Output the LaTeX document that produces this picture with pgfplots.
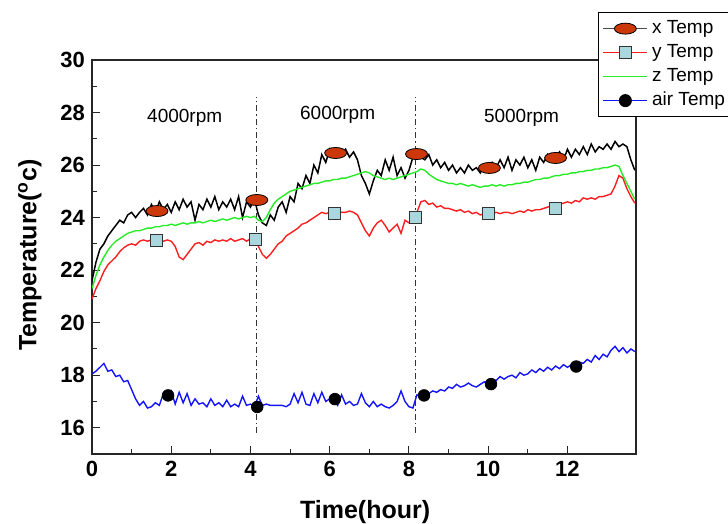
\documentclass[border=0pt]{standalone}
\usepackage{pgfplots}
\pgfplotsset{compat=1.18}
\usepackage{fontspec}
\setmainfont{Liberation Sans}
\definecolor{xred}{RGB}{204,56,10}
\definecolor{sqblue}{RGB}{170,214,222}
\definecolor{zgreen}{RGB}{40,235,40}
\definecolor{ablue}{RGB}{20,20,250}
\definecolor{yred}{RGB}{250,30,30}
\pgfplotsset{
 legx/.style={legend image code/.code={\draw[mark repeat=2,mark phase=2,##1,black!70,mark=*,mark size=2.75pt,mark options={xscale=2,fill=xred,draw=black,line width=0.4pt}] plot coordinates {(0pt,0pt) (11pt,0pt) (22pt,0pt)};}},
 legy/.style={legend image code/.code={\draw[mark repeat=2,mark phase=2,##1,mark=square*,mark size=3pt,mark options={fill=sqblue,draw=black!80,line width=0.5pt}] plot coordinates {(0pt,0pt) (11pt,0pt) (22pt,0pt)};}},
 legz/.style={legend image code/.code={\draw[##1] plot coordinates {(0pt,0pt) (11pt,0pt) (22pt,0pt)};}},
 lega/.style={legend image code/.code={\draw[mark repeat=2,mark phase=2,##1,mark=*,mark size=2.9pt,mark options={fill=black,draw=black}] plot coordinates {(0pt,0pt) (11pt,0pt) (22pt,0pt)};}},
}
\begin{document}
\begin{tikzpicture}
\useasboundingbox (0,0) rectangle (364pt,262pt);
\begin{axis}[
 at={(46pt,35pt)}, anchor=south west,
 scale only axis, width=272pt, height=197pt,
 xmin=0, xmax=13.73, ymin=15, ymax=30,
 xtick={0,2,...,12}, ytick={16,18,...,30},
 minor x tick num=1, minor y tick num=1,
 tick pos=left, tick align=inside,
 major tick length=4pt, minor tick length=2.5pt,
 axis line style={line width=0.6pt, black!85},
 every tick/.style={black!85, line width=0.5pt},
 /pgf/number format/assume math mode=true,
 tick label style={font=\bfseries\fontsize{11}{13}\selectfont},
 xlabel={Time(hour)}, ylabel={Temperature(\textsuperscript{o}c)},
 label style={font=\bfseries\fontsize{12.5}{14}\selectfont},
 xlabel style={at={(axis description cs:0.502,-0.147)}, anchor=center},
 ylabel style={at={(axis description cs:-0.114,0.505)}, anchor=center},
 legend style={at={(0.930,1.122)}, anchor=north west, draw=black, line width=0.7pt, fill=white,
   font=\fontsize{9.5}{11}\selectfont, inner sep=2pt, row sep=0pt,
   nodes={text height=6.8pt, text depth=1.8pt, inner ysep=1.7pt, inner xsep=2pt}},
 legend cell align=left,
]
% vertical separators
\addplot[forget plot, black!80, line width=0.55pt, dash pattern=on 3pt off 1.5pt on 0.7pt off 1.5pt] coordinates {(4.15,15.8) (4.15,28.6)};
\addplot[forget plot, black!80, line width=0.55pt, dash pattern=on 3pt off 1.5pt on 0.7pt off 1.5pt] coordinates {(8.17,15.8) (8.17,28.6)};
% x Temp
\addplot[legx, black, line width=0.75pt] coordinates {
(0.0,21.6)(0.1,22.3)(0.2,22.8)(0.3,23.0)(0.4,23.3)(0.5,23.5)(0.6,23.7)(0.7,23.9)(0.8,23.8)(0.9,24.1)
(1.0,24.2)(1.1,24.0)(1.2,24.2)(1.3,24.35)(1.4,24.1)(1.5,24.5)(1.6,24.2)(1.7,24.6)(1.8,24.3)(1.9,24.5)
(2.0,24.2)(2.1,24.6)(2.2,24.3)(2.3,24.7)(2.4,24.4)(2.5,24.6)(2.6,23.9)(2.7,24.5)(2.8,24.3)(2.9,24.7)
(3.0,24.4)(3.1,24.8)(3.2,24.3)(3.3,24.6)(3.4,24.4)(3.5,24.7)(3.6,24.3)(3.7,24.8)(3.8,24.0)(3.9,24.6)
(4.0,24.4)(4.1,24.7)(4.2,24.1)(4.3,23.8)(4.4,23.7)(4.5,24.1)(4.6,23.9)(4.7,24.4)(4.8,24.6)(4.9,24.2)
(5.0,24.8)(5.1,24.6)(5.2,25.3)(5.3,25.1)(5.4,25.6)(5.5,25.3)(5.6,26.0)(5.7,25.7)(5.8,26.4)(5.9,26.1)
(6.0,26.6)(6.1,26.3)(6.2,26.5)(6.3,26.4)(6.4,26.6)(6.5,26.3)(6.6,26.5)(6.7,26.2)(6.8,25.6)(6.9,25.3)
(7.0,24.9)(7.1,25.4)(7.2,25.8)(7.3,25.6)(7.4,26.2)(7.5,25.8)(7.6,26.3)(7.7,25.6)(7.8,25.9)(7.9,25.5)
(8.0,25.8)(8.1,26.3)(8.2,26.5)(8.3,26.3)(8.4,26.2)(8.5,26.4)(8.6,26.0)(8.7,26.2)(8.8,25.9)(8.9,26.1)
(9.0,25.8)(9.1,26.0)(9.2,25.7)(9.3,25.9)(9.4,25.7)(9.5,26.0)(9.6,25.8)(9.7,25.9)(9.8,25.7)(9.9,26.0)
(10.0,25.8)(10.1,26.1)(10.2,25.9)(10.3,26.2)(10.4,25.9)(10.5,26.3)(10.6,25.8)(10.7,26.2)(10.8,26.0)(10.9,26.3)
(11.0,25.9)(11.1,26.2)(11.2,25.8)(11.3,26.3)(11.4,26.1)(11.5,26.4)(11.6,26.2)(11.7,26.3)(11.8,26.5)(11.9,26.2)
(12.0,26.6)(12.1,26.3)(12.2,26.6)(12.3,26.4)(12.4,26.7)(12.5,26.4)(12.6,26.8)(12.7,26.5)(12.8,26.7)(12.9,26.6)
(13.0,26.8)(13.1,26.6)(13.2,26.9)(13.3,26.7)(13.4,26.8)(13.5,26.7)(13.6,26.2)(13.7,25.8)};
\addlegendentry{x Temp}
% y Temp
\addplot[legy, yred, line width=0.7pt] coordinates {
(0.0,20.9)(0.1,21.3)(0.2,21.6)(0.3,21.95)(0.4,22.2)(0.5,22.35)(0.6,22.5)(0.7,22.7)(0.8,22.85)(0.9,22.95)
(1.0,23.0)(1.1,22.95)(1.2,23.1)(1.3,23.15)(1.4,23.1)(1.5,23.15)(1.6,23.1)(1.7,23.15)(1.8,23.1)(1.9,23.15)
(2.0,23.1)(2.1,22.9)(2.2,22.5)(2.3,22.4)(2.4,22.6)(2.5,22.8)(2.6,23.0)(2.7,23.05)(2.8,22.95)(2.9,23.1)
(3.0,23.05)(3.1,23.15)(3.2,23.1)(3.3,23.15)(3.4,23.1)(3.5,23.2)(3.6,23.1)(3.7,23.15)(3.8,23.2)(3.9,23.1)
(4.0,23.2)(4.1,23.15)(4.2,22.9)(4.3,22.6)(4.4,22.45)(4.5,22.6)(4.6,22.8)(4.7,23.0)(4.8,23.1)(4.9,23.3)
(5.0,23.4)(5.1,23.5)(5.2,23.6)(5.3,23.75)(5.4,23.8)(5.5,23.9)(5.6,24.0)(5.7,24.1)(5.8,24.2)(5.9,24.15)
(6.0,24.2)(6.1,24.15)(6.2,24.25)(6.3,24.2)(6.4,24.2)(6.5,24.25)(6.6,24.2)(6.7,24.1)(6.8,23.8)(6.9,23.5)
(7.0,23.3)(7.1,23.6)(7.2,23.8)(7.3,23.9)(7.4,23.7)(7.5,23.45)(7.6,23.6)(7.7,23.75)(7.8,23.4)(7.9,23.9)
(8.0,23.8)(8.1,24.0)(8.2,24.2)(8.3,24.6)(8.4,24.65)(8.5,24.5)(8.6,24.55)(8.7,24.4)(8.8,24.45)(8.9,24.35)
(9.0,24.35)(9.1,24.3)(9.2,24.25)(9.3,24.3)(9.4,24.2)(9.5,24.25)(9.6,24.15)(9.7,24.2)(9.8,24.1)(9.9,24.15)
(10.0,24.2)(10.1,24.15)(10.2,24.2)(10.3,24.15)(10.4,24.2)(10.5,24.2)(10.6,24.15)(10.7,24.2)(10.8,24.25)(10.9,24.2)
(11.0,24.3)(11.1,24.25)(11.2,24.3)(11.3,24.3)(11.4,24.35)(11.5,24.4)(11.6,24.45)(11.7,24.4)(11.8,24.5)(11.9,24.55)
(12.0,24.6)(12.1,24.55)(12.2,24.65)(12.3,24.6)(12.4,24.75)(12.5,24.7)(12.6,24.75)(12.7,24.7)(12.8,24.8)(12.9,24.8)
(13.0,24.85)(13.1,24.9)(13.2,25.2)(13.3,25.6)(13.4,25.5)(13.5,25.1)(13.6,24.8)(13.7,24.55)};
\addlegendentry{y Temp}
% z Temp
\addplot[legz, zgreen, line width=0.7pt] coordinates {
(0.0,21.3)(0.1,21.8)(0.2,22.2)(0.3,22.5)(0.4,22.75)(0.5,22.95)(0.6,23.1)(0.7,23.2)(0.8,23.3)(0.9,23.4)
(1.0,23.45)(1.1,23.5)(1.2,23.5)(1.3,23.55)(1.4,23.6)(1.5,23.6)(1.6,23.65)(1.7,23.65)(1.8,23.7)(1.9,23.7)
(2.0,23.75)(2.1,23.7)(2.2,23.75)(2.3,23.8)(2.4,23.75)(2.5,23.8)(2.6,23.8)(2.7,23.85)(2.8,23.8)(2.9,23.85)
(3.0,23.9)(3.1,23.85)(3.2,23.9)(3.3,23.95)(3.4,23.9)(3.5,23.95)(3.6,24.0)(3.7,23.95)(3.8,24.0)(3.9,24.05)
(4.0,24.0)(4.1,24.05)(4.2,23.9)(4.3,23.85)(4.4,24.0)(4.5,24.3)(4.6,24.55)(4.7,24.7)(4.8,24.8)(4.9,24.9)
(5.0,25.0)(5.1,25.05)(5.2,25.1)(5.3,25.15)(5.4,25.2)(5.5,25.25)(5.6,25.3)(5.7,25.3)(5.8,25.35)(5.9,25.4)
(6.0,25.4)(6.1,25.45)(6.2,25.45)(6.3,25.5)(6.4,25.5)(6.5,25.55)(6.6,25.6)(6.7,25.65)(6.8,25.7)(6.9,25.75)
(7.0,25.7)(7.1,25.6)(7.2,25.55)(7.3,25.5)(7.4,25.45)(7.5,25.5)(7.6,25.45)(7.7,25.5)(7.8,25.55)(7.9,25.6)
(8.0,25.65)(8.1,25.7)(8.2,25.75)(8.3,25.85)(8.4,25.8)(8.5,25.65)(8.6,25.55)(8.7,25.45)(8.8,25.4)(8.9,25.35)
(9.0,25.3)(9.1,25.3)(9.2,25.25)(9.3,25.3)(9.4,25.25)(9.5,25.2)(9.6,25.25)(9.7,25.2)(9.8,25.15)(9.9,25.2)
(10.0,25.2)(10.1,25.25)(10.2,25.2)(10.3,25.25)(10.4,25.2)(10.5,25.25)(10.6,25.25)(10.7,25.3)(10.8,25.3)(10.9,25.35)
(11.0,25.35)(11.1,25.4)(11.2,25.45)(11.3,25.45)(11.4,25.5)(11.5,25.5)(11.6,25.55)(11.7,25.6)(11.8,25.6)(11.9,25.65)
(12.0,25.65)(12.1,25.7)(12.2,25.7)(12.3,25.75)(12.4,25.75)(12.5,25.8)(12.6,25.8)(12.7,25.85)(12.8,25.85)(12.9,25.9)
(13.0,25.9)(13.1,25.95)(13.2,26.0)(13.3,25.95)(13.4,25.6)(13.5,25.3)(13.6,25.0)(13.7,24.7)};
\addlegendentry{z Temp}
% air Temp
\addplot[lega, ablue, line width=0.7pt] coordinates {
(0.0,18.05)(0.1,18.15)(0.2,18.3)(0.3,18.45)(0.4,18.15)(0.5,18.2)(0.6,17.95)(0.7,18.0)(0.8,17.75)(0.9,17.8)
(1.0,17.45)(1.1,17.1)(1.2,16.85)(1.3,17.0)(1.4,16.75)(1.5,16.8)(1.6,16.95)(1.7,16.85)(1.8,17.3)(1.9,17.2)
(2.0,17.4)(2.1,16.9)(2.2,17.35)(2.3,16.95)(2.4,17.3)(2.5,16.85)(2.6,17.1)(2.7,16.9)(2.8,16.95)(2.9,16.8)
(3.0,17.1)(3.1,16.85)(3.2,16.95)(3.3,16.8)(3.4,17.05)(3.5,16.8)(3.6,16.9)(3.7,16.8)(3.8,17.2)(3.9,16.85)
(4.0,16.9)(4.1,16.8)(4.2,17.2)(4.3,16.85)(4.4,16.9)(4.5,16.85)(4.6,16.85)(4.7,16.85)(4.8,16.85)(4.9,16.8)
(5.0,16.9)(5.1,17.3)(5.2,16.95)(5.3,17.35)(5.4,16.9)(5.5,16.85)(5.6,17.3)(5.7,16.95)(5.8,17.35)(5.9,17.0)
(6.0,17.1)(6.1,17.05)(6.2,16.85)(6.3,17.25)(6.4,16.9)(6.5,17.0)(6.6,16.85)(6.7,16.9)(6.8,17.3)(6.9,16.95)
(7.0,16.8)(7.1,17.0)(7.2,16.8)(7.3,16.9)(7.4,16.8)(7.5,16.75)(7.6,16.85)(7.7,17.0)(7.8,17.4)(7.9,17.0)
(8.0,16.8)(8.1,16.75)(8.2,17.25)(8.3,17.2)(8.4,17.35)(8.5,17.3)(8.6,17.4)(8.7,17.35)(8.8,17.45)(8.9,17.4)
(9.0,17.55)(9.1,17.5)(9.2,17.65)(9.3,17.55)(9.4,17.6)(9.5,17.7)(9.6,17.6)(9.7,17.55)(9.8,17.65)(9.9,17.75)
(10.0,17.65)(10.1,17.85)(10.2,17.8)(10.3,17.95)(10.4,17.85)(10.5,17.95)(10.6,18.0)(10.7,17.9)(10.8,18.1)(10.9,18.0)
(11.0,18.05)(11.1,18.2)(11.2,18.1)(11.3,18.25)(11.4,18.15)(11.5,18.3)(11.6,18.2)(11.7,18.35)(11.8,18.25)(11.9,18.4)
(12.0,18.3)(12.1,18.4)(12.2,18.35)(12.3,18.5)(12.4,18.45)(12.5,18.6)(12.6,18.5)(12.7,18.75)(12.8,18.6)(12.9,18.8)
(13.0,18.7)(13.1,18.95)(13.2,19.1)(13.3,18.9)(13.4,19.05)(13.5,18.85)(13.6,19.0)(13.7,18.9)};
\addlegendentry{air Temp}
% markers
\addplot[forget plot, only marks, mark=*, mark size=2.75pt, mark options={xscale=2, fill=xred, draw=black, line width=0.4pt}] coordinates {
(1.64,24.25)(4.16,24.67)(6.15,26.46)(8.19,26.42)(10.03,25.89)(11.70,26.27)};
\addplot[forget plot, only marks, mark=square*, mark size=3pt, mark options={fill=sqblue, draw=black!80, line width=0.5pt}] coordinates {
(1.64,23.11)(4.13,23.18)(6.13,24.17)(8.17,24.02)(10.01,24.14)(11.70,24.33)};
\addplot[forget plot, only marks, mark=*, mark size=2.9pt, mark options={fill=black, draw=black}] coordinates {
(1.92,17.23)(4.17,16.79)(6.13,17.09)(8.38,17.23)(10.07,17.66)(12.22,18.33)};
% annotations
\node[font=\fontsize{9.5}{11}\selectfont] at (axis cs:2.34,27.8) {4000rpm};
\node[font=\fontsize{9.5}{11}\selectfont] at (axis cs:6.2,27.9) {6000rpm};
\node[font=\fontsize{9.5}{11}\selectfont] at (axis cs:10.84,27.8) {5000rpm};
\end{axis}
\end{tikzpicture}
\end{document}
